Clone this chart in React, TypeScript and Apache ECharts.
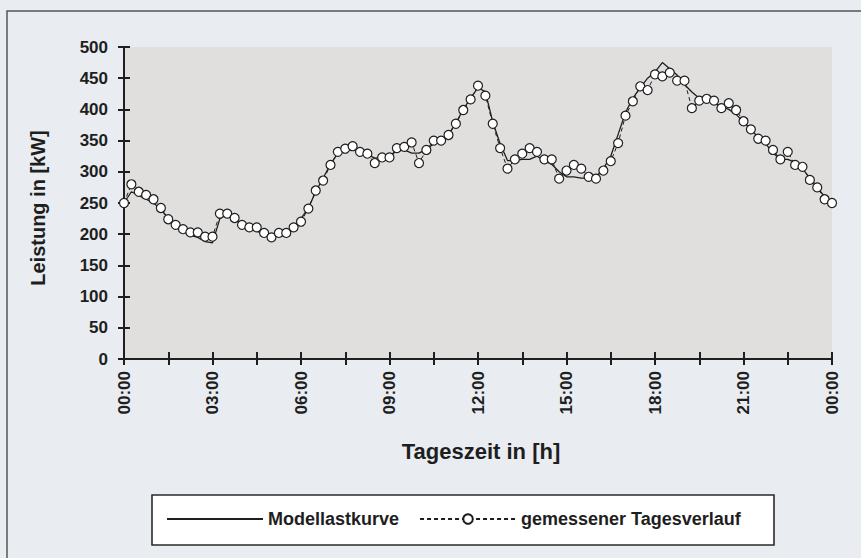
import React, { useEffect, useRef } from "react";
import * as echarts from "echarts";

// time step between samples, in hours (15 minutes)
const STEP_HOURS = 0.25;

// gemessener Tagesverlauf (measured daily profile), kW, 00:00 .. 24:00 every 15 min
const MEASURED = [
  250, 280, 268, 263, 256, 242, 224, 215, 208, 203, 203, 196,
  196, 233, 233, 226, 215, 211, 211, 202, 195, 202, 202, 211,
  220, 241, 270, 286, 311, 332, 337, 341, 332, 329, 314, 323,
  323, 338, 340, 347, 314, 335, 350, 350, 359, 377, 399, 416,
  438, 422, 377, 338, 305, 320, 329, 338, 332, 320, 320, 289,
  302, 311, 305, 292, 289, 302, 317, 346, 390, 413, 437, 431,
  456, 453, 459, 446, 446, 402, 414, 417, 414, 402, 410, 399,
  381, 368, 353, 350, 335, 320, 332, 311, 308, 287, 275, 256,
  250,
];

// Modellastkurve (model load curve), kW, same sampling
const MODEL = [
  250, 268, 262, 256, 250, 240, 225, 215, 205, 198, 195, 188,
  186, 225, 232, 226, 215, 210, 205, 200, 195, 198, 203, 212,
  225, 242, 268, 290, 312, 330, 337, 338, 335, 328, 322, 323,
  326, 333, 335, 330, 330, 336, 345, 352, 360, 378, 400, 418,
  435, 428, 380, 345, 318, 318, 320, 320, 325, 318, 312, 300,
  292, 292, 290, 290, 292, 305, 325, 360, 395, 418, 435, 450,
  460, 475, 465, 455, 440, 428, 418, 415, 410, 405, 400, 392,
  380, 368, 355, 345, 330, 320, 320, 315, 305, 290, 275, 260,
  250,
];

const X_LABELS = ["00:00", "03:00", "06:00", "09:00", "12:00", "15:00", "18:00", "21:00", "00:00"];
const SERIES_NAMES = ["Modellastkurve", "gemessener Tagesverlauf"];
const Y_TITLE = "Leistung in [kW]";
const X_TITLE = "Tageszeit in [h]";

const FONT = "'Liberation Sans', Arial, Helvetica, sans-serif";
const INK = "#1e1e1e";

export default function App() {
  const ref = useRef<HTMLDivElement>(null);

  useEffect(() => {
    if (!ref.current) return;
    const chart = echarts.init(ref.current, undefined, { renderer: "svg" });

    const measured = MEASURED.map((v, i) => [i * STEP_HOURS, v]);
    const model = MODEL.map((v, i) => [i * STEP_HOURS, v]);

    const xBase = {
      type: "value" as const,
      min: 0,
      max: 24,
      interval: 1.5,
      splitLine: { show: false },
    };
    const yBase = {
      type: "value" as const,
      min: 0,
      max: 500,
      interval: 50,
      splitLine: { show: false },
    };

    chart.setOption({
      animation: false,
      backgroundColor: "#e9edf1",
      textStyle: { fontFamily: FONT },
      grid: {
        left: 124,
        right: 29,
        top: 47,
        bottom: 199,
        show: true,
        backgroundColor: "#e1dede",
        borderWidth: 0,
      },
      xAxis: [
        {
          ...xBase,
          axisLine: { show: true, lineStyle: { color: INK, width: 2 } },
          axisTick: { show: true, inside: false, length: 6, lineStyle: { color: INK, width: 2 } },
          axisLabel: {
            rotate: 90,
            margin: 12,
            fontSize: 17,
            fontWeight: "bold",
            color: INK,
            fontFamily: FONT,
            formatter: (v: number) => (v % 3 === 0 ? X_LABELS[v / 3] : ""),
          },
        },
        {
          ...xBase,
          position: "bottom",
          axisLine: { show: false },
          axisTick: { show: true, inside: true, length: 7, lineStyle: { color: INK, width: 2 } },
          axisLabel: { show: false },
        },
      ],
      yAxis: [
        {
          ...yBase,
          axisLine: { show: true, lineStyle: { color: INK, width: 2 } },
          axisTick: { show: true, inside: false, length: 6, lineStyle: { color: INK, width: 2 } },
          axisLabel: {
            margin: 16,
            fontSize: 17,
            fontWeight: "bold",
            color: INK,
            fontFamily: FONT,
          },
        },
        {
          ...yBase,
          position: "left",
          axisLine: { show: false },
          axisTick: { show: true, inside: true, length: 6, lineStyle: { color: INK, width: 2 } },
          axisLabel: { show: false },
        },
      ],
      legend: {
        left: 166,
        top: 510,
        padding: 0,
        itemWidth: 96,
        itemHeight: 12,
        itemGap: 20,
        data: [
          { name: SERIES_NAMES[0], itemStyle: { opacity: 0 } },
          { name: SERIES_NAMES[1] },
        ],
        textStyle: { fontSize: 18, fontWeight: "bold", color: INK, fontFamily: FONT },
      },
      graphic: [
        {
          type: "rect",
          z: 1,
          shape: { x: 7, y: 11, width: 900, height: 600 },
          style: { fill: "none", stroke: "#555", lineWidth: 1.5 },
          silent: true,
        },
        {
          type: "rect",
          z: 1,
          shape: { x: 152, y: 495, width: 622, height: 50 },
          style: { fill: "#ffffff", stroke: "#2a2a2a", lineWidth: 1.6 },
          silent: true,
        },
        {
          type: "text",
          x: 38,
          y: 208,
          rotation: Math.PI / 2,
          style: {
            text: Y_TITLE,
            fontSize: 20,
            fontWeight: "bold",
            fontFamily: FONT,
            fill: INK,
            textAlign: "center",
            textVerticalAlign: "middle",
          },
        },
        {
          type: "text",
          x: 481,
          y: 451,
          style: {
            text: X_TITLE,
            fontSize: 22,
            fontWeight: "bold",
            fontFamily: FONT,
            fill: INK,
            textAlign: "center",
            textVerticalAlign: "middle",
          },
        },
      ],
      series: [
        {
          name: SERIES_NAMES[0],
          type: "line",
          data: model,
          symbol: "none",
          lineStyle: { color: INK, width: 1.3, type: "solid" },
          itemStyle: { color: INK },
          z: 2,
        },
        {
          name: SERIES_NAMES[1],
          type: "line",
          data: measured,
          symbol: "circle",
          symbolSize: 9,
          showAllSymbol: true,
          lineStyle: { color: INK, width: 1, type: [4, 3] },
          itemStyle: { color: "#ffffff", borderColor: INK, borderWidth: 1.2 },
          z: 3,
        },
      ],
    });

    return () => chart.dispose();
  }, []);

  return (
    <div
      ref={ref}
      style={{ position: "fixed", left: 0, top: 0, width: 861, height: 558 }}
    />
  );
}
